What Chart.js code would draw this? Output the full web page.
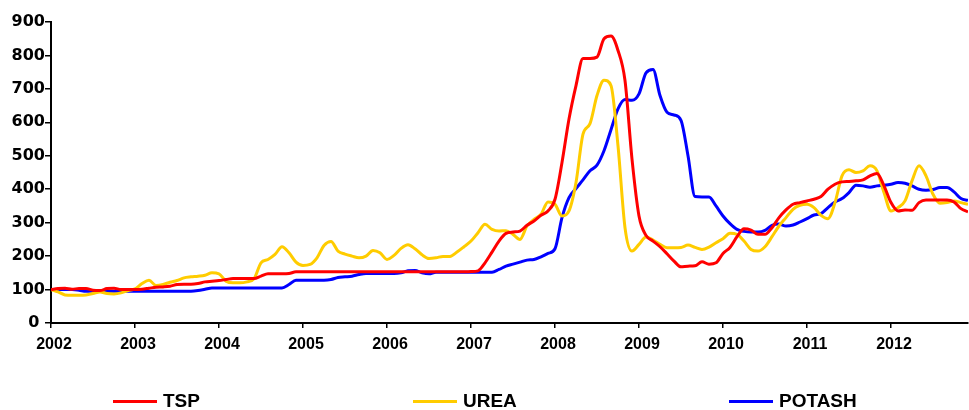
<!doctype html>
<html lang="en">
<head>
    <meta charset="utf-8">
    <script src="https://cdn.jsdelivr.net/npm/chart.js@4.4.1/dist/chart.umd.min.js"></script>
    <title>Fertilizer prices</title>
    <style>
        body { margin: 0; background: #fff; }
        #wrap { position: relative; width: 969px; height: 410px; }
        #legend .line { position: absolute; height: 3px; width: 44px; top: 400px; }
        #legend .txt { position: absolute; top: 390px; font: bold 19px "Liberation Sans", Arial, sans-serif; color: #000; }
    </style>
</head>
<body>
<div id="wrap">
    <canvas id="chart" width="969" height="410"></canvas>
    <div id="legend"></div>
</div>

<script>
    // monthly index values, Jan 2002 .. Dec 2012
    const startYear = 2002;
    const tsp = [
        100, 103, 104, 101, 103, 103, 98, 97, 103, 104, 100, 100,
        100, 101, 104, 107, 108, 110, 115, 116, 116, 118, 123, 125,
        127, 130, 133, 133, 133, 133, 140, 147, 147, 147, 148, 153,
        153, 153, 153, 153, 153, 153, 153, 153, 153, 153, 153, 153,
        153, 153, 153, 153, 153, 153, 153, 153, 153, 153, 153, 153,
        154, 156, 180, 212, 245, 268, 272, 275, 292, 305, 322, 335,
        370, 480, 610, 710, 791, 791, 795, 850, 858, 815, 725, 490,
        320, 262, 245, 228, 207, 185, 168, 170, 171, 183, 176, 180,
        208, 226, 258, 282, 278, 265, 265, 285, 315, 338, 355, 360,
        365, 370, 378, 400, 415, 422, 423, 425, 428, 440, 447, 410,
        360, 335, 338, 337, 360, 368, 368, 368, 368, 362, 342, 332
    ];
    const urea = [
        100, 93, 84, 83, 83, 84, 88, 93, 88, 87, 90, 97,
        102, 118, 128, 112, 115, 122, 127, 135, 138, 140, 143, 150,
        147, 125, 120, 120, 123, 132, 180, 190, 205, 228, 210, 182,
        172, 175, 195, 232, 244, 215, 206, 200, 195, 200, 217, 210,
        190, 202, 223, 234, 222, 204, 193, 195, 199, 199, 212, 228,
        245, 270, 295, 280, 275, 276, 265, 250, 290, 310, 325, 362,
        355, 320, 335, 420, 565, 596, 680, 726, 710, 530, 285, 215,
        235, 257, 248, 235, 225, 225, 226, 233, 226, 220, 227, 240,
        252, 268, 265, 245, 220, 215, 228, 258, 290, 315, 340, 352,
        355, 345, 322, 312, 360, 440, 458, 450, 455, 470, 455, 390,
        335, 345, 365, 425, 470, 440, 385, 358, 360, 365, 360, 355
    ];
    const potash = [
        100, 100, 100, 100, 98, 95, 95, 95, 95, 95, 95, 95,
        95, 95, 95, 95, 95, 95, 95, 95, 95, 97, 101, 105,
        105, 105, 105, 105, 105, 105, 105, 105, 105, 105, 115, 128,
        128, 128, 128, 128, 130, 136, 138, 140, 145, 148, 148, 148,
        148, 148, 150, 156, 157, 150, 147, 152, 152, 152, 152, 152,
        152, 152, 152, 152, 160, 170, 176, 182, 188, 190, 198, 208,
        222, 315, 375, 402, 428, 455, 472, 515, 578, 640, 668, 666,
        685, 748, 758, 680, 630, 622, 606, 500, 378, 377, 377, 350,
        320, 297, 280, 274, 272, 272, 277, 292, 296, 290, 293, 302,
        312, 323, 327, 345, 362, 372, 390, 412, 410, 406, 410, 412,
        415, 420, 418, 410, 400, 397, 399, 405, 405, 392, 372, 367
    ];
    const names = ['TSP', 'UREA', 'POTASH'];
    const colors = ['#ff0000', '#ffcc00', '#0000ff'];

    const months = [];
    for (let i = 0; i < tsp.length; i++) {
        months.push(startYear + i / 12);
    }

    const font = "'Liberation Sans', Arial, sans-serif";

    const data = {
        labels: months,
        datasets: [tsp, urea, potash].map(function (values, i) {
            return {
                label: names[i],
                data: values,
                borderColor: colors[i],
                backgroundColor: colors[i],
                borderWidth: 3,
                pointRadius: 0,
                cubicInterpolationMode: 'monotone'
            };
        })
    };

    const config = {
        type: 'line',
        data: data,
        options: {
            responsive: false,
            animation: false,
            layout: {
                padding: {top: 22, right: 1, left: 0, bottom: 0}
            },
            plugins: {
                legend: {display: false},
                tooltip: {enabled: false}
            },
            scales: {
                x: {
                    type: 'linear',
                    min: startYear,
                    max: months[months.length - 1],
                    afterFit: function (scale) { scale.height = 87; },
                    grid: {drawOnChartArea: false, color: '#000', tickLength: 5, lineWidth: 1.5},
                    border: {color: '#000', width: 2},
                    ticks: {
                        stepSize: 1,
                        includeBounds: false,
                        autoSkip: false,
                        maxRotation: 0,
                        padding: 7,
                        labelOffset: 3,
                        color: '#000',
                        font: {family: font, size: 16, weight: 'bold'},
                        callback: function (v) { return String(v); }
                    }
                },
                y: {
                    min: 0,
                    max: 900,
                    afterFit: function (scale) { scale.width = 51; },
                    grid: {drawOnChartArea: false, color: '#000', tickLength: 6, lineWidth: 1.5},
                    border: {color: '#000', width: 2},
                    ticks: {
                        stepSize: 100,
                        padding: 0,
                        color: '#000',
                        font: {family: "'DejaVu Sans', sans-serif", size: 16, weight: 'bold'},
                        callback: function (v) { return v === 0 ? '0 ' : String(v); }
                    }
                }
            }
        }
    };

    const chart = new Chart(document.getElementById('chart'), config);

    // legend spread across the bottom like the original
    const legendX = [113, 413, 729];
    const legend = document.getElementById('legend');
    names.forEach(function (name, i) {
        const line = document.createElement('div');
        line.className = 'line';
        line.style.left = legendX[i] + 'px';
        line.style.background = colors[i];
        legend.appendChild(line);
        const txt = document.createElement('div');
        txt.className = 'txt';
        txt.style.left = (legendX[i] + 50) + 'px';
        txt.innerText = name;
        legend.appendChild(txt);
    });
</script>
</body>
</html>
